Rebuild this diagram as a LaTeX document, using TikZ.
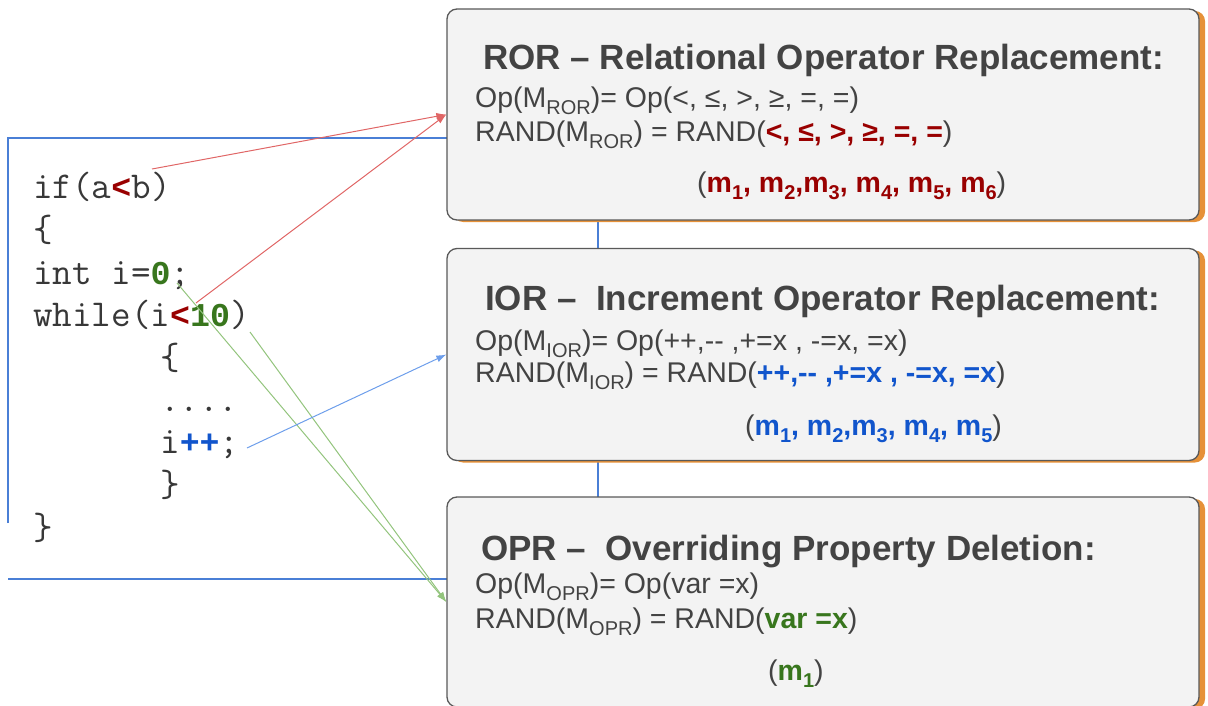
\documentclass[tikz,border=0pt]{standalone}
\usepackage{fontspec}
\setmainfont{Liberation Sans}
\newfontfamily\codeboldfam{Liberation Mono}
\usetikzlibrary{shadows,arrows.meta}
\definecolor{txt}{HTML}{434343}
\definecolor{codegray}{HTML}{383838}
\definecolor{dred}{HTML}{990000}
\definecolor{dblue}{HTML}{1155CC}
\definecolor{dgreen}{HTML}{38761D}
\definecolor{boxfill}{HTML}{F3F3F3}
\definecolor{boxborder}{HTML}{595959}
\definecolor{shadoworange}{HTML}{E69138}
\definecolor{frameblue}{HTML}{4A7FD6}
\definecolor{redline}{HTML}{E06666}
\definecolor{greenline}{HTML}{93C47D}
\definecolor{blueline}{HTML}{6D9EEB}
\newcommand{\sbs}[1]{\raisebox{-7pt}{\fontsize{20}{20}\selectfont #1}}
\newcommand{\bsb}[1]{\raisebox{-7pt}{\fontsize{20}{20}\selectfont\bfseries #1}}
\newcommand{\cbx}[2]{\textcolor{#1}{\codeboldfam\bfseries\fontsize{33.25}{38}\selectfont #2}}
\begin{document}
\begin{tikzpicture}[x=1pt,y=-1pt,
  mbox/.style={draw=boxborder, line width=1.3pt, fill=boxfill, rounded corners=10pt,
    minimum width=752pt, inner sep=0pt,
    copy shadow={shadow xshift=6pt, shadow yshift=-2pt, fill=shadoworange, draw=none}},
  ttl/.style={anchor=base west, inner sep=0pt, text=txt, font=\fontsize{35}{35}\selectfont\bfseries},
  body/.style={anchor=base west, inner sep=0pt, text=txt, font=\fontsize{28.5}{28.5}\selectfont},
  codetxt/.style={anchor=base west, inner sep=0pt, text=codegray, font=\ttfamily\fontsize{38}{38}\selectfont},
  arr/.style={-{Latex[length=10pt,width=7pt]}, line width=1pt},
  frame/.style={draw=frameblue, line width=1.2pt}]
\useasboundingbox (0,0) rectangle (1208,706);
\begin{scope}
\clip (0,0) rectangle (1208,706);
% code frame
\draw[frame] (8,523) -- (8,138) -- (598,138) -- (598,579) -- (8,579);
% boxes
\node[mbox, minimum height=211pt] (ror) at (823,114.5) {};
\node[mbox, minimum height=212pt] (ior) at (823,354.5) {};
\node[mbox, minimum height=210pt] (opr) at (823,602) {};
% code
\node[codetxt] (c1) at (33,198) {if(a\cbx{dred}{<}b)};
\node[codetxt] (c2) at (33,241) {\{};
\node[codetxt] (c3) at (33,284) {int i=\cbx{dgreen}{0};};
\node[codetxt] (c4) at (33,326) {while(i\cbx{dred}{<}\cbx{dgreen}{10})};
\node[codetxt] (c5) at (160,369) {\{};
\node[codetxt] (c6) at (160,411) {....};
\node[codetxt] (c7) at (160,453) {i\cbx{dblue}{++};};
\node[codetxt] (c8) at (160,496) {\}};
\node[codetxt] (c9) at (33,539) {\}};
% arrow start points
\coordinate (sIf) at (152,169);
\coordinate (sWhile) at (196,303);
\coordinate (sZero) at (177,283);
\coordinate (sTen) at (250,332);
\coordinate (sInc) at (247,448);
\draw[arr, redline] (sIf) -- (ror.west);
\draw[arr, redline] (sWhile) -- (ror.west);
\draw[arr, greenline] (sZero) -- (opr.west);
\draw[arr, greenline] (sTen) -- (opr.west);
\draw[arr, blueline] (sInc) -- (ior.west);
% ROR texts
\node[ttl] (t1) at (483,70) {ROR – Relational Operator Replacement:};
\node[body] (r1) at (475,108) {Op(M\sbs{ROR})= Op(<, ≤, >, ≥, =, =)};
\node[body] (r2) at (475,142) {RAND(M\sbs{ROR}) = RAND(\textcolor{dred}{\bfseries <, ≤, >, ≥, =, =})};
\node[body] (r3) at (697,193) {(\textcolor{dred}{\bfseries m\bsb{1}, m\bsb{2},m\bsb{3}, m\bsb{4}, m\bsb{5}, m\bsb{6}})};
% IOR texts
\node[ttl] (t2) at (485,310) {IOR –~ Increment Operator Replacement:};
\node[body] (i1) at (475,350) {Op(M\sbs{IOR})= Op(++,{-}{-} ,+=x , -=x, =x)};
\node[body] (i2) at (475,382) {RAND(M\sbs{IOR}) = RAND(\textcolor{dblue}{\bfseries ++,{-}{-} ,+=x , -=x, =x})};
\node[body] (i3) at (745,435) {(\textcolor{dblue}{\bfseries m\bsb{1}, m\bsb{2},m\bsb{3}, m\bsb{4}, m\bsb{5}})};
% OPR texts
\node[ttl] (t3) at (481,560) {OPR –~ Overriding Property Deletion:};
\node[body] (o1) at (475,593) {Op(M\sbs{OPR})= Op(var =x)};
\node[body] (o2) at (475,628) {RAND(M\sbs{OPR}) = RAND(\textcolor{dgreen}{\bfseries var =x})};
\node[body] (o3) at (768,680) {(\textcolor{dgreen}{\bfseries m\bsb{1}})};
\end{scope}
\end{tikzpicture}
\end{document}
